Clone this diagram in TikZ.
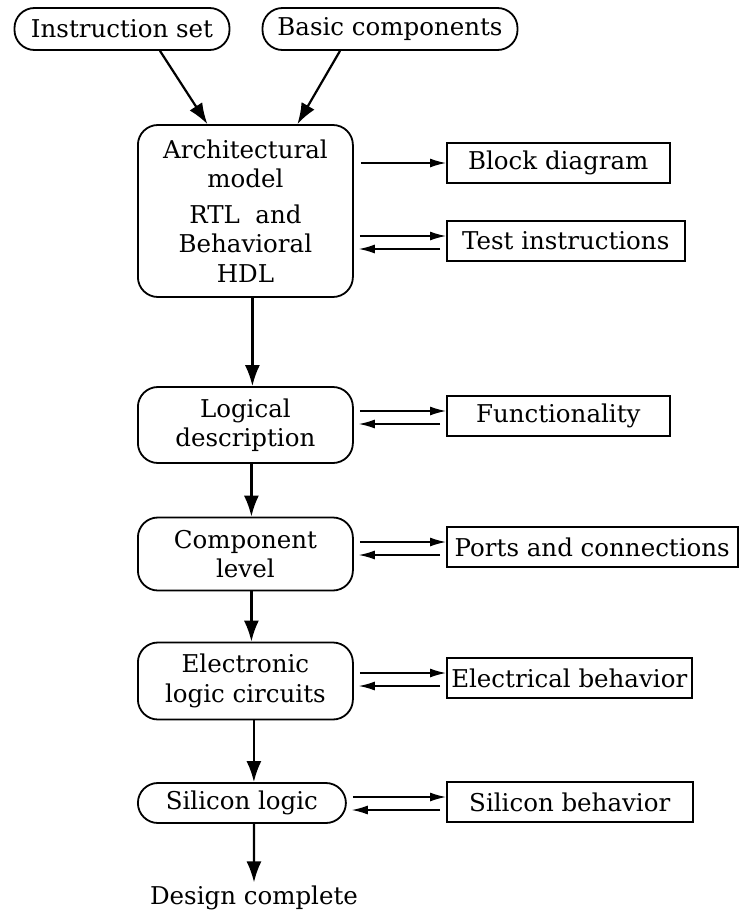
\documentclass[tikz,border=0pt]{standalone}
\usepackage{fontspec}
\setmainfont{DejaVu Serif}
\usetikzlibrary{arrows.meta}

\tikzset{
  input/.style={draw,line width=1.8pt,rounded corners=20pt,minimum height=42pt,inner sep=2pt},
  stage/.style={draw,line width=1.8pt,rounded corners=20pt,align=center,anchor=west,minimum width=215pt,inner sep=2pt},
  check/.style={draw,line width=1.5pt,anchor=west,minimum height=40pt,inner sep=2pt},
  flow/.style={line width=2.2pt,-{Latex[length=21pt,width=15pt]}},
  link/.style={line width=1.4pt,-{Latex[length=16pt,width=9pt]}},
}

\begin{document}
\begin{tikzpicture}[x=1pt,y=-1pt,font=\fontsize{24.5}{29.5}\selectfont]
\useasboundingbox (0,0) rectangle (748,913);

% inputs
\node[input,minimum width=215pt] (iset) at (122,29) {Instruction set};
\node[input,minimum width=255pt] (basic) at (390,29) {Basic components};

% design stages
\node[stage,minimum height=172pt] (arch) at (137,211) {Architectural\\model\\[6pt]RTL~~and\\Behavioral\\HDL};
\node[stage,minimum height=76pt] (logic) at (137,425) {Logical\\description};
\node[stage,minimum height=73pt] (comp) at (137,554) {Component\\level};
\node[stage,minimum height=77pt] (elec) at (137,681) {Electronic\\logic circuits};
\node[stage,minimum height=40pt,minimum width=208pt] (sil) at (137,803) {Silicon logic};
\node (done) at (254,898) {Design complete};

% checks
\node[check,minimum width=223pt] (blk) at (446,163) {Block diagram};
\node[check,minimum width=238pt] (test) at (446,241) {Test instructions};
\node[check,minimum width=223pt] (func) at (446,416) {Functionality};
\node[check,minimum width=291pt] (ports) at (446,547) {Ports and connections};
\node[check,minimum width=245pt] (elect) at (446,678) {Electrical behavior};
\node[check,minimum width=246pt] (silb) at (446,802) {Silicon behavior};

\draw[flow] ([xshift=38pt]iset.south) -- ([xshift=-38pt]arch.north);
\draw[flow] ([xshift=-50pt]basic.south) -- ([xshift=52pt]arch.north);

\draw[flow] ([xshift=7pt]arch.south) -- ([xshift=7pt]logic.north);
\draw[flow] ([xshift=6pt]logic.south) -- ([xshift=6pt]comp.north);
\draw[flow] ([xshift=6pt]comp.south) -- ([xshift=6pt]elec.north);
\draw[flow] ([xshift=8.5pt]elec.south) -- ([xshift=12pt]sil.north);
\draw[flow] ([xshift=12pt]sil.south) -- (done.north);

\draw[link,shorten <=7pt] (arch.east |- blk) -- (blk.west);

\foreach \a/\b in {arch/test,logic/func,comp/ports,elec/elect,sil/silb}{
  \coordinate (r) at ([yshift=5pt]\b.west);
  \coordinate (l) at ([yshift=-8pt]\b.west);
  \draw[link,shorten <=6pt] (\a.east |- r) -- (r);
  \draw[link,shorten <=6pt,shorten >=5pt] (l) -- (\a.east |- l);
}

\end{tikzpicture}
\end{document}
